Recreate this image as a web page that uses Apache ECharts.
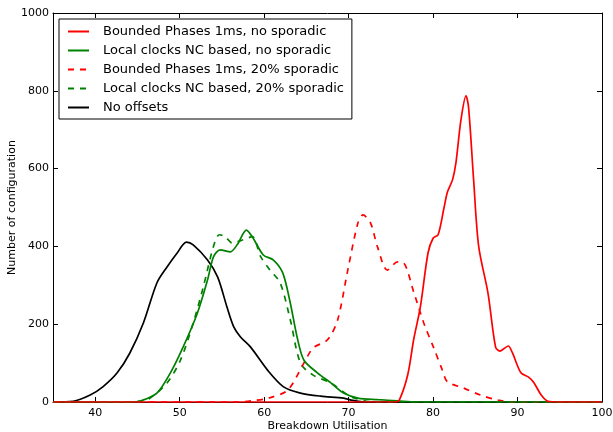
<!DOCTYPE html>
<html><head><meta charset="utf-8">
<script src="https://cdn.jsdelivr.net/npm/echarts@6/dist/echarts.min.js"></script>
<style>html,body{margin:0;padding:0;background:#fff}#c{width:613px;height:432px}</style>
</head><body><div id="c"></div>
<script>
const xTicks = [40, 50, 60, 70, 80, 90, 100];
const yTicks = [0, 200, 400, 600, 800, 1000];
const seriesNames = [
  "Bounded Phases 1ms, no sporadic",
  "Local clocks NC based, no sporadic",
  "Bounded Phases 1ms, 20% sporadic",
  "Local clocks NC based, 20% sporadic",
  "No offsets"
];
const bpNoSpor = [[35,0],[75.5,0],[76,5],[77,70],[77.7,160],[78.5,245],[79.4,383],[80,421],[80.6,430],[81.3,500],[81.7,540],[82.3,571],[82.7,614],[83.3,725],[83.9,787],[84.2,758],[84.8,571],[85.4,400],[86.5,280],[87.4,141],[87.9,131],[88.9,144],[89.4,126],[90.4,75],[91.3,64],[91.9,51],[92.8,18],[93.6,2],[95,0],[100,0]];
const lcNoSpor = [[35,0],[44.5,0],[45.3,2],[47.3,23],[48.9,75],[50.4,141],[52.1,229],[53.3,314],[54,373],[54.8,391],[56,386],[56.8,404],[57.9,442],[58.7,421],[59.9,378],[61.1,365],[62.2,332],[63.1,254],[63.9,167],[64.7,108],[66.3,75],[67.9,49],[69.4,23],[71.1,10],[73.5,6],[75.8,3],[78,0],[100,0]];
const bpSpor = [[35,0],[57,0],[58.5,3],[60.5,10],[62.8,31],[64.7,100],[65.8,139],[67.5,160],[68.7,211],[69.9,339],[71.1,460],[71.7,481],[72.6,460],[73.4,400],[74.6,339],[75.8,360],[76.5,358],[77.7,283],[78.9,203],[80.1,138],[81.1,82],[81.7,52],[83.6,36],[85.6,18],[87.7,5],[89.5,0],[100,0]];
const lcSpor = [[35,0],[44,0],[45.5,3],[46.5,10],[48.5,49],[50.1,108],[51.6,203],[52.8,296],[54,400],[54.7,430],[55.4,425],[56.2,409],[57.5,417],[58.6,425],[59.6,373],[60.7,339],[61.9,306],[63.1,211],[64.3,100],[65.8,69],[67.9,49],[69.9,18],[71,8],[73,0],[100,0]];
const noOffsets = [[35,0],[37.4,2],[39.4,18],[40.9,39],[42.6,75],[44.1,126],[45.7,203],[47.3,306],[48.5,347],[49.7,383],[50.8,411],[51.6,404],[53.3,365],[54.5,321],[55.6,244],[56.4,193],[57.2,167],[58.4,141],[60.4,82],[62.3,39],[64.3,23],[66.7,15],[69.4,10],[70.5,4],[72,0],[100,0]];

const colors = ['#ff0000', '#008000', '#ff0000', '#008000', '#000000'];
const dashes = ['solid', 'solid', [6, 6], [6, 6], 'solid'];
const datasets = [bpNoSpor, lcNoSpor, bpSpor, lcSpor, noOffsets];
const font = 'DejaVu Sans';

const chart = echarts.init(document.getElementById('c'), null, {renderer: 'canvas'});
const axisBase = {
  axisLine: {show: true, onZero: false, lineStyle: {color: '#000', width: 1}},
  splitLine: {show: false}
};
chart.setOption({
  animation: false,
  backgroundColor: '#fff',
  textStyle: {fontFamily: font},
  grid: {left: 53, right: 11, top: 13, bottom: 30, containLabel: false, outerBoundsMode: 'none'},
  legend: {
    orient: 'vertical', left: 59, top: 19,
    padding: [6, 8, 5, 8],
    borderColor: '#000', borderWidth: 1, backgroundColor: '#fff',
    itemWidth: 21, itemHeight: 10, itemGap: 6,
    itemStyle: {opacity: 0},
    textStyle: {fontFamily: font, fontSize: 13, color: '#000', padding: [0, 0, 0, 9]},
    data: seriesNames
  },
  xAxis: [
    Object.assign({}, axisBase, {
      type: 'value', min: 35, max: 100, interval: 5, position: 'bottom',
      name: 'Breakdown Utilisation', nameLocation: 'middle', nameGap: 19, nameMoveOverlap: false,
      nameTextStyle: {fontFamily: font, fontSize: 11, color: '#000'},
      axisTick: {show: true, inside: true, length: 5, lineStyle: {color: '#000'}, customValues: xTicks},
      axisLabel: {fontFamily: font, fontSize: 11, color: '#000', margin: 6, customValues: xTicks}
    }),
    Object.assign({}, axisBase, {
      type: 'value', min: 35, max: 100, interval: 5, position: 'top',
      axisTick: {show: true, inside: true, length: 5, lineStyle: {color: '#000'}, customValues: xTicks},
      axisLabel: {show: false}
    })
  ],
  yAxis: [
    Object.assign({}, axisBase, {
      type: 'value', min: 0, max: 1000, interval: 200, position: 'left',
      name: 'Number of configuration', nameLocation: 'middle', nameGap: 35, nameRotate: 90, nameMoveOverlap: false,
      nameTextStyle: {fontFamily: font, fontSize: 11, color: '#000'},
      axisTick: {show: true, inside: true, length: 5, lineStyle: {color: '#000'}},
      axisLabel: {fontFamily: font, fontSize: 11, color: '#000', margin: 4, formatter: v => String(v)}
    }),
    Object.assign({}, axisBase, {
      type: 'value', min: 0, max: 1000, interval: 200, position: 'right',
      axisTick: {show: true, inside: true, length: 5, lineStyle: {color: '#000'}},
      axisLabel: {show: false}
    })
  ],
  series: datasets.map((d, i) => ({
    name: seriesNames[i], type: 'line', data: d, smooth: 0.3,
    symbol: 'none', showSymbol: false,
    color: colors[i],
    itemStyle: {color: colors[i]},
    lineStyle: {color: colors[i], width: 1.7, type: dashes[i]},
    z: 5 - i
  }))
});
</script></body></html>
